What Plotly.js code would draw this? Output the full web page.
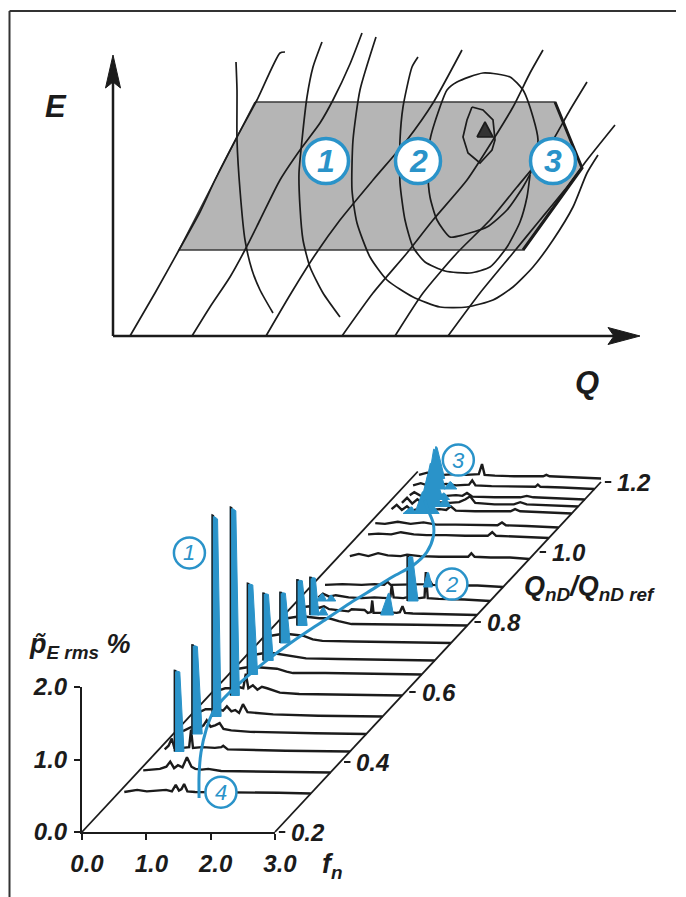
<!DOCTYPE html>
<html><head><meta charset="utf-8">
<script src="https://cdn.plot.ly/plotly-3.0.1.min.js"></script>
<style>html,body{margin:0;padding:0;background:#fff;}#chart{width:686px;height:897px;}</style>
</head><body><div id="chart"></div>
<script>
// ================= TOP PANEL: hill chart (Q, E, arbitrary units) =================
const openingQ = [
  [0.17,0.42,0.66,0.87,1.02,1.24,1.44,1.67,1.72],
  [0.79,0.97,1.17,1.33,1.47,1.67,1.87,2.07,2.20,2.37,2.49],
  [1.53,1.77,2.02,2.27,2.60,2.94,3.20,3.49],
  [2.29,2.60,2.94,3.20,3.54,3.80,4.00,4.17,4.30],
  [2.82,3.10,3.44,3.77,4.04,4.34,4.57,4.74],
  [3.35,3.67,4.00,4.27,4.54,4.74,5.02]
];
const openingE = [
  [0,0.43,0.86,1.24,1.56,1.99,2.36,2.83,2.84],
  [0,0.29,0.59,0.88,1.16,1.56,1.86,2.13,2.36,2.72,3.03],
  [0,0.41,0.81,1.16,1.56,1.96,2.33,2.86],
  [0,0.43,0.83,1.16,1.56,1.96,2.29,2.63,2.86],
  [0,0.43,0.83,1.16,1.49,1.86,2.26,2.54],
  [0,0.43,0.83,1.16,1.49,1.76,2.11]
];
const contourQ = [
  [1.23,1.24,1.24,1.27,1.32,1.39,1.47,1.60],
  [2.09,2.00,1.94,1.89,1.86,1.87,1.90,1.97,2.10,2.27],
  [2.63,2.47,2.40,2.39,2.44,2.57,2.74,3.00,3.27,3.54,3.80,4.00,4.20,4.40,4.60,4.74,4.85],
  [3.05,2.99,2.90,2.87,2.87,2.92,3.00,3.12,3.32,3.57,3.77,3.94,4.07,4.14,4.17],
  [3.34,3.44,3.70,3.97,4.10,4.20,4.25,4.20,4.10,3.94,3.74,3.50,3.37,3.24,3.17,3.15,3.17,3.27,3.34],
  [3.59,3.70,3.80,3.82,3.79,3.67,3.55,3.50,3.54,3.59],
  [3.64,3.72,3.80,3.64]
];
const contourE = [
  [2.74,2.46,1.96,1.46,0.96,0.66,0.46,0.23],
  [2.94,2.69,2.39,1.96,1.63,1.29,0.96,0.69,0.43,0.19],
  [2.99,2.46,1.96,1.46,1.13,0.79,0.56,0.39,0.29,0.29,0.36,0.49,0.69,0.96,1.29,1.63,1.81],
  [2.79,2.69,2.29,1.96,1.53,1.16,0.89,0.74,0.65,0.63,0.69,0.89,1.14,1.39,1.61],
  [2.46,2.54,2.63,2.59,2.46,2.19,1.96,1.69,1.49,1.26,1.09,1.01,0.99,1.16,1.39,1.63,1.96,2.29,2.46],
  [2.29,2.26,2.16,1.96,1.86,1.73,1.83,1.99,2.16,2.29],
  [1.99,2.14,1.99,1.99]
];
const rangeQ = [1.42,4.42,4.69,4.10,0.66,1.42];
const rangeE = [2.34,2.34,1.68,0.86,0.86,2.34];
const opQ = [2.13,3.05,4.40];
const opE = [1.75,1.75,1.75];
const opLabel = ['1','2','3'];

// ================= BOTTOM PANEL: waterfall of pressure spectra =================
const fTicks = [0,1,2,3];
const pTicks = [0,1,2];
const qTicks = [0.2,0.4,0.6,0.8,1.0,1.2];
const qLevels = [0.31,0.37,0.43,0.48,0.53,0.59,0.65,0.69,0.74,0.79,0.82,0.86,0.90,0.98,1.04,1.07,1.11,1.13,1.15,1.18,1.21];
const specF = [
  [0.10,0.30,0.45,0.60,0.75,0.84,0.90,0.95,0.99,1.03,1.08,1.20,1.50,2.00,2.50,3.00],
  [0.09,0.20,0.35,0.45,0.51,0.57,0.63,0.70,0.77,0.84,0.90,1.00,1.10,1.30,2.00,3.00],
  [0.12,0.18,0.23,0.27,0.40,0.50,0.53,0.56,0.70,0.90,1.00,1.03,1.10,1.50,2.00,3.00],
  [0.15,0.25,0.29,0.42,0.47,0.52,0.58,0.65,0.72,0.78,0.90,1.20,1.60,2.20,3.00],
  [0.15,0.25,0.35,0.45,0.52,0.58,0.65,0.71,0.77,0.83,0.90,1.00,1.30,2.00,3.00],
  [0.15,0.25,0.33,0.45,0.53,0.57,0.61,0.68,0.75,0.82,0.90,1.00,1.10,1.40,2.00,3.00],
  [0.15,0.29,0.45,0.60,0.75,0.90,1.00,1.50,2.00,3.00],
  [0.20,0.33,0.50,0.65,0.80,1.00,1.50,2.20,3.00],
  [0.20,0.34,0.50,0.70,0.85,1.00,1.50,2.20,3.00],
  [0.20,0.35,0.50,0.70,0.85,1.00,1.20,1.60,2.20,3.00],
  [0.20,0.40,0.55,0.62,0.70,0.85,1.00,1.05,1.25,1.30,1.35,1.37,1.39,1.50,1.60,1.75,1.80,1.84,1.88,2.00,2.50,3.00],
  [0.33,0.40,0.50,0.60,0.80,1.00,1.20,1.40,1.45,1.47,1.50,1.65,1.70,1.90,1.98,2.00,2.03,2.20,2.60,3.00],
  [0.23,0.50,0.80,1.00,1.15,1.20,1.25,1.50,1.80,1.85,1.90,2.20,2.60,3.00],
  [0.21,0.35,0.50,0.65,0.80,1.00,1.10,1.30,1.60,1.90,2.05,2.10,2.15,2.40,2.70,3.00],
  [0.19,0.35,0.55,0.70,0.90,1.10,1.40,1.70,2.05,2.12,2.18,2.50,3.00],
  [0.15,0.30,0.50,0.70,0.90,1.10,1.40,1.80,2.05,2.12,2.18,2.50,3.00],
  [0.20,0.28,0.36,0.44,0.52,0.60,0.80,0.95,1.05,1.12,1.20,1.50,2.05,2.12,2.20,2.60,3.00],
  [0.26,0.34,0.42,0.50,0.58,0.80,1.00,1.15,1.25,1.32,1.40,1.70,2.00,2.10,2.20,2.60,3.00],
  [0.28,0.35,0.45,0.70,0.85,1.00,1.10,1.17,1.25,1.60,2.00,2.10,2.20,2.60,3.00],
  [0.18,0.30,0.40,0.70,0.85,1.00,1.05,1.10,1.15,1.40,1.80,2.08,2.12,2.16,2.50,3.00],
  [0.12,0.25,0.50,0.70,0.85,0.95,1.05,1.10,1.14,1.30,1.60,2.05,2.10,2.15,2.50,2.95]
];
const specP = [
  [0.02,0.05,0.03,0.04,0.05,0.03,0.12,0.04,0.06,0.13,0.03,0.02,0.02,0.01,0.01,0.00],
  [0.03,0.04,0.05,0.08,0.15,0.06,0.10,0.07,0.21,0.08,0.05,0.04,0.05,0.02,0.01,0.00],
  [0.03,0.08,0.18,0.05,0.05,0.06,0.30,0.05,0.06,0.05,0.06,0.08,0.03,0.02,0.01,0.00],
  [0.04,0.08,0.10,0.09,0.12,0.19,0.10,0.12,0.15,0.07,0.05,0.03,0.02,0.01,0.00],
  [0.06,0.10,0.10,0.10,0.08,0.14,0.07,0.09,0.05,0.17,0.06,0.05,0.03,0.01,0.00],
  [0.07,0.10,0.10,0.12,0.10,0.30,0.10,0.14,0.08,0.12,0.10,0.07,0.04,0.02,0.01,0.00],
  [0.08,0.10,0.10,0.09,0.08,0.04,0.02,0.02,0.01,0.00],
  [0.08,0.10,0.10,0.08,0.05,0.03,0.02,0.01,0.00],
  [0.10,0.12,0.12,0.10,0.05,0.03,0.02,0.01,0.00],
  [0.10,0.12,0.12,0.10,0.10,0.06,0.02,0.02,0.01,0.00],
  [0.10,0.12,0.10,0.12,0.08,0.06,0.05,0.08,0.07,0.03,0.04,0.20,0.03,0.03,0.04,0.03,0.04,0.12,0.03,0.02,0.01,0.00],
  [0.05,0.10,0.06,0.08,0.05,0.04,0.05,0.04,0.06,0.22,0.05,0.04,0.05,0.04,0.05,0.40,0.04,0.03,0.02,0.00],
  [0.03,0.04,0.03,0.04,0.03,0.07,0.03,0.03,0.04,0.10,0.03,0.02,0.02,0.00],
  [0.04,0.07,0.04,0.08,0.05,0.04,0.06,0.04,0.03,0.03,0.03,0.08,0.03,0.02,0.02,0.00],
  [0.05,0.06,0.05,0.08,0.05,0.04,0.04,0.03,0.03,0.08,0.03,0.02,0.00],
  [0.06,0.05,0.08,0.05,0.07,0.04,0.04,0.03,0.03,0.07,0.03,0.02,0.00],
  [0.06,0.12,0.05,0.10,0.04,0.06,0.05,0.06,0.05,0.10,0.04,0.03,0.03,0.06,0.03,0.02,0.00],
  [0.05,0.12,0.04,0.10,0.05,0.06,0.05,0.06,0.10,0.14,0.05,0.03,0.03,0.06,0.03,0.02,0.00],
  [0.06,0.10,0.05,0.06,0.05,0.06,0.05,0.09,0.04,0.03,0.03,0.05,0.03,0.02,0.00],
  [0.05,0.08,0.05,0.07,0.05,0.06,0.06,0.12,0.05,0.04,0.03,0.03,0.06,0.03,0.02,0.00],
  [0.05,0.08,0.05,0.06,0.05,0.05,0.06,0.20,0.05,0.04,0.03,0.03,0.05,0.03,0.02,0.00]
];
// highlighted (blue) peaks: flow rate, start / peak / end frequency, amplitude
const spikeQ  = [0.43,0.48,0.53,0.59,0.65,0.69,0.74,0.79,0.82,0.82,0.86,0.86,0.82,0.86,0.90,1.11,1.13,1.15,1.18,1.21,1.13,1.18,1.11,1.15];
const spikeF0 = [0.27,0.29,0.35,0.33,0.29,0.33,0.34,0.35,0.40,0.52,0.30,0.46,1.50,1.71,1.76,0.56,0.54,0.48,0.40,0.30,0.84,0.66,0.38,0.74];
const spikeF1 = [0.27,0.29,0.35,0.33,0.29,0.33,0.34,0.35,0.40,0.60,0.38,0.52,1.62,1.71,1.82,0.68,0.66,0.60,0.50,0.38,0.92,0.75,0.50,0.80];
const spikeF2 = [0.42,0.45,0.49,0.47,0.45,0.49,0.50,0.51,0.54,0.68,0.46,0.60,1.70,1.88,1.90,0.94,0.88,0.80,0.68,0.52,1.02,0.86,0.58,0.90];
const spikeH  = [1.12,1.23,2.78,2.60,1.26,0.93,0.70,0.63,0.52,0.10,0.10,0.08,0.30,0.62,0.20,0.30,0.44,0.50,0.55,0.44,0.12,0.10,0.09,0.09];
// blue guide curve, front-plane coordinates (f, p)
const trajF = [1.82,1.82,1.85,1.93,2.04,2.19,2.46,2.85,3.28,3.75,4.17,4.43,4.83,5.15,5.36,5.46,5.46,5.38,5.33];
const trajP = [0.47,0.79,1.10,1.41,1.66,1.83,2.06,2.35,2.63,2.91,3.16,3.30,3.52,3.68,3.86,4.07,4.26,4.44,4.58];
const tagF = [1.67,5.75,5.85,2.16];
const tagP = [3.85,3.42,5.13,0.55];
const tagText = ['1','2','3','4'];

// ---------------- styling / geometry ----------------
const BLUE = '#2a93c9';
const INK = '#1b1b1b';
const FONT = 'Liberation Sans, Arial, Helvetica, sans-serif';
const Q0 = 0.2, KX = 326/64.33, KY = 350/72.5;   // oblique projection of Q axis
const QFLOOR_LEFT = 1.23, QFLOOR_RIGHT = 1.2;
const projX = (f,q) => f + (q - Q0)*KX;
const projY = (p,q) => p + (q - Q0)*KY;

const traces = [];
// ---- top panel traces
traces.push({x: rangeQ, y: rangeE, xaxis:'x', yaxis:'y', mode:'lines', fill:'toself',
  fillcolor:'#b5b5b5', line:{color:'#3a3a3a', width:1.5}});
traces.push({x: rangeQ.slice(1,4), y: rangeE.slice(1,4), xaxis:'x', yaxis:'y', mode:'lines',
  line:{color:INK, width:3}});
openingQ.forEach((qs,i)=>traces.push({x:qs, y:openingE[i], xaxis:'x', yaxis:'y', mode:'lines',
  line:{color:INK, width:1.7, shape:'spline', smoothing:0.6}}));
contourQ.forEach((qs,i)=>traces.push({x:qs, y:contourE[i], xaxis:'x', yaxis:'y', mode:'lines',
  fill: i===6 ? 'toself' : 'none', fillcolor:'#333',
  line:{color:INK, width:1.7, shape: i>=5 ? 'linear':'spline', smoothing:0.6}}));
// axes of hill chart
traces.push({x:[0,0,null,0,5.05], y:[2.6,0,null,0,0], xaxis:'x', yaxis:'y', mode:'lines',
  line:{color:INK, width:2.5}});
traces.push({x:opQ, y:opE, xaxis:'x', yaxis:'y', mode:'markers',
  marker:{size:45, color:'#fff', line:{color:BLUE, width:3.5}}});

// ---- bottom panel: dummy trace for the front axes
traces.push({x:[0], y:[0], xaxis:'x2', yaxis:'y2', mode:'markers', marker:{opacity:0}});
// floor edges
traces.push({x:[projX(0,Q0), projX(0,QFLOOR_LEFT), null, projX(3,Q0), projX(3,QFLOOR_RIGHT)],
  y:[projY(0,Q0), projY(0,QFLOOR_LEFT), null, projY(0,Q0), projY(0,QFLOOR_RIGHT)],
  xaxis:'x3', yaxis:'y3', mode:'lines', line:{color:INK, width:1.8}});
// Q ticks
const qtx = [], qty = [];
qTicks.forEach(q=>{ qtx.push(projX(3.06,q), projX(3.16,q), null); qty.push(projY(0,q), projY(0,q), null); });
traces.push({x:qtx, y:qty, xaxis:'x3', yaxis:'y3', mode:'lines', line:{color:INK, width:2}});
// spectra lines (back to front)
const lx = [], ly = [];
for (let i = qLevels.length-1; i >= 0; i--) {
  const q = qLevels[i];
  specF[i].forEach((f,j)=>{ lx.push(projX(f,q)); ly.push(projY(specP[i][j],q)); });
  lx.push(null); ly.push(null);
}
traces.push({x:lx, y:ly, xaxis:'x3', yaxis:'y3', mode:'lines', line:{color:INK, width:2.4}, connectgaps:false});
// blue peaks
const sx = [], sy = [], ex = [], ey = [];
spikeQ.forEach((q,k)=>{
  const f0 = spikeF0[k], f1 = spikeF1[k], f2 = spikeF2[k], h = spikeH[k];
  const tw = (f1 === f0) ? 0.085 : 0.02;
  [[f0,0],[f1,h],[f1+tw,h*0.98],[f2,0],[f0,0]].forEach(([f,p])=>{ sx.push(projX(f,q)); sy.push(projY(p,q)); });
  sx.push(null); sy.push(null);
  if (f1 === f0) { ex.push(projX(f0,q), projX(f1,q), projX(f1+0.03,q), null); ey.push(projY(0,q), projY(h,q), projY(h*0.995,q), null); }
});
traces.push({x:sx, y:sy, xaxis:'x3', yaxis:'y3', mode:'lines', fill:'toself', fillcolor:BLUE,
  line:{color:BLUE, width:1}, connectgaps:false});
traces.push({x:ex, y:ey, xaxis:'x3', yaxis:'y3', mode:'lines', line:{color:INK, width:1.4}});
// guide curve
traces.push({x:trajF.map(f=>projX(f,Q0)), y:trajP.map(p=>projY(p,Q0)), xaxis:'x3', yaxis:'y3', mode:'lines',
  line:{color:BLUE, width:3, shape:'spline', smoothing:0.8}});
// numbered tags (circles)
traces.push({x:tagF, y:tagP, xaxis:'x3', yaxis:'y3', mode:'markers',
  marker:{size:31, color:'#fff', line:{color:BLUE, width:2.5}}});

// ---------------- layout ----------------
const W = 686, H = 897;
const pxX = v => v/W, pxY = v => 1 - v/H;
const lblFont = (s) => ({family:FONT, size:s, color:INK, weight:'bold', style:'italic'});
const annotations = [
  {xref:'paper', yref:'paper', x:pxX(56), y:pxY(107), text:'E', showarrow:false, font:lblFont(31), xanchor:'center', yanchor:'middle'},
  {xref:'paper', yref:'paper', x:pxX(587), y:pxY(382), text:'Q', showarrow:false, font:lblFont(31), xanchor:'center', yanchor:'middle'},
  {xref:'paper', yref:'paper', x:pxX(27), y:pxY(646), text:'p\u0303<sub>E rms</sub> %', showarrow:false, font:lblFont(27), xanchor:'left', yanchor:'middle'},
  {xref:'paper', yref:'paper', x:pxX(320), y:pxY(866), text:'f<sub>n</sub>', showarrow:false, font:lblFont(27), xanchor:'left', yanchor:'middle'},
  {xref:'paper', yref:'paper', x:pxX(522), y:pxY(588), text:'Q<sub>nD</sub>/Q<sub>nD ref</sub>', showarrow:false, font:lblFont(27), xanchor:'left', yanchor:'middle'}
];
qTicks.forEach(q=>annotations.push({xref:'x3', yref:'y3', x:projX(3.22,q), y:projY(0,q),
  text:q.toFixed(1), showarrow:false, xanchor:'left', yanchor:'middle', font:lblFont(24)}));
opLabel.forEach((t,i)=>annotations.push({xref:'x', yref:'y', x:opQ[i], y:opE[i], text:t, showarrow:false,
  xanchor:'center', yanchor:'middle', font:{family:FONT, size:32, color:BLUE, weight:'bold', style:'italic'}}));
tagText.forEach((t,i)=>annotations.push({xref:'x3', yref:'y3', x:projX(tagF[i],Q0), y:projY(tagP[i],Q0), text:t, showarrow:false,
  xanchor:'center', yanchor:'middle', font:{family:FONT, size:22, color:BLUE, style:'italic'}}));

const shapes = [
  // frame
  {type:'line', xref:'paper', yref:'paper', x0:pxX(9.5), x1:pxX(676), y0:pxY(11), y1:pxY(11), line:{color:'#333', width:2}},
  {type:'line', xref:'paper', yref:'paper', x0:pxX(9.5), x1:pxX(9.5), y0:pxY(11), y1:0, line:{color:'#333', width:2}},
  // arrowheads of hill chart axes
  {type:'path', xref:'x', yref:'y', path:'M 5.27 0 L 4.95 0.085 L 5.01 0 L 4.95 -0.085 Z', fillcolor:INK, line:{color:INK, width:1}},
  {type:'path', xref:'x', yref:'y', path:'M 0 2.81 L -0.075 2.48 L 0 2.54 L 0.075 2.48 Z', fillcolor:INK, line:{color:INK, width:1}}
];

const tickFont = lblFont(24);
const layout = {
  width: W, height: H, margin:{l:0, r:0, t:0, b:0},
  paper_bgcolor:'#fff', plot_bgcolor:'rgba(0,0,0,0)', showlegend:false,
  xaxis:{domain:[13/W, 1], range:[-1.0, 5.73], visible:false, fixedrange:true},
  yaxis:{domain:[pxY(420), pxY(12)], range:[-0.84, 3.24], visible:false, fixedrange:true},
  xaxis2:{domain:[82/W, 275/W], range:[0,3], anchor:'y2', tickvals:fTicks, ticktext:fTicks.map(v=>v.toFixed(1)),
    ticks:'outside', ticklen:6, tickwidth:2, tickcolor:INK, showline:true, linecolor:INK, linewidth:2,
    showgrid:false, zeroline:false, tickfont:tickFont, ticklabelstandoff:3, ticklabelshift:5},
  yaxis2:{domain:[pxY(832), pxY(687)], range:[0,2], anchor:'x2', tickvals:pTicks, ticktext:pTicks.map(v=>v.toFixed(1)),
    ticks:'outside', ticklen:6, tickwidth:2, tickcolor:INK, showline:true, linecolor:INK, linewidth:2,
    showgrid:false, zeroline:false, tickfont:tickFont, ticklabelstandoff:2},
  xaxis3:{domain:[70/W, 1], range:[-12/64.33, 604/64.33], anchor:'y3', visible:false, fixedrange:true},
  yaxis3:{domain:[pxY(845), pxY(420)], range:[-13/72.5, 412/72.5], anchor:'x3', visible:false, fixedrange:true},
  annotations, shapes
};
Plotly.newPlot('chart', traces, layout, {staticPlot:true, displayModeBar:false});
</script></body></html>
